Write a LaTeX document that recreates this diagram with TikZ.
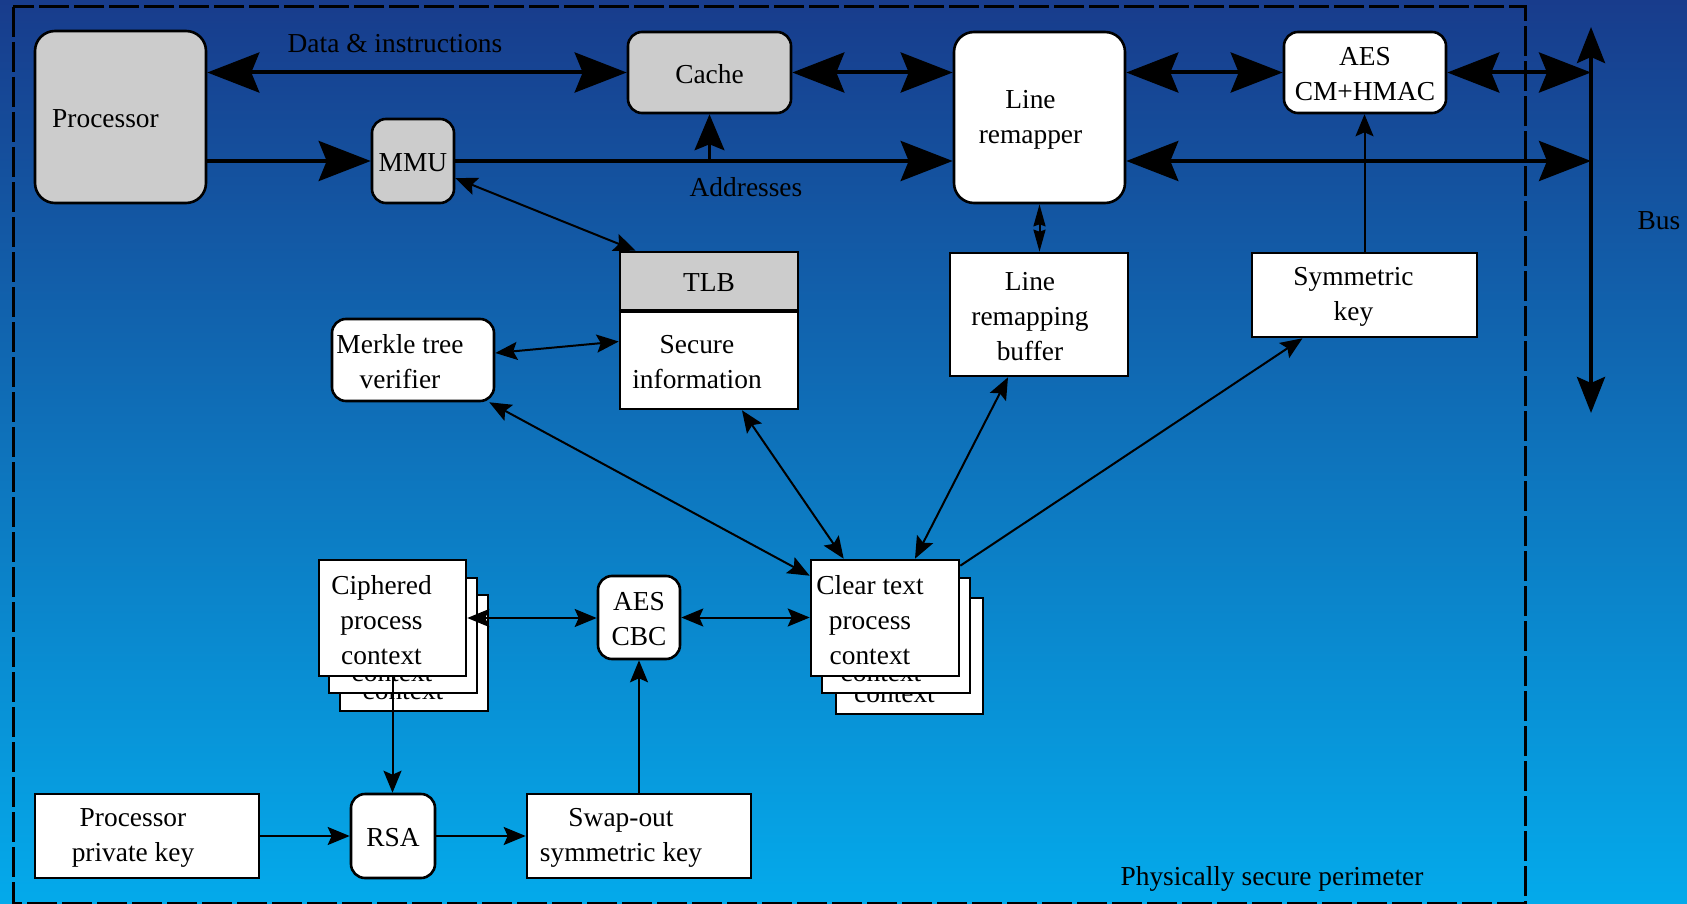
\documentclass[tikz,border=0pt]{standalone}
\usepackage{fontspec}
\setmainfont{Liberation Serif}
\usetikzlibrary{arrows.meta,fit,calc}

\definecolor{bgtop}{RGB}{24,60,140}
\definecolor{bgbot}{RGB}{4,170,235}
\definecolor{unitgray}{RGB}{204,204,204}

\tikzset{
  bigtip/.tip={Stealth[length=26pt,width=20pt,inset=4pt]},
  midtip/.tip={Stealth[length=18pt,width=15pt,inset=3pt]},
  bustip/.tip={Stealth[length=18pt,width=14pt,inset=3pt]},
  thintip/.tip={Stealth[length=11pt,width=9pt,inset=2pt]},
  smalltip/.tip={Stealth[length=11pt,width=6pt,inset=1pt]},
}

\begin{document}
\begin{tikzpicture}[x=0.5pt,y=-0.5pt,
  txt/.style={font=\fontsize{13.7}{17.5}\selectfont, align=center, inner sep=0pt},
  box/.style={draw=black, line width=1.3pt, fill=white, inner sep=0pt, txt},
  rbox/.style={box, rounded corners=7pt},
  grayfill/.style={fill=unitgray},
  every label/.style={txt, yshift=-1pt},
  thick bus/.style={line width=2pt},
  bigline/.style={line width=2pt},
  thinline/.style={line width=1pt},
  perim/.style={line width=1.5pt, dash pattern=on 15pt off 2.5pt},
]
% background
\shade[top color=bgtop, bottom color=bgbot] (0,0) rectangle (1687,904);
\useasboundingbox (0,0) rectangle (1687,904);

% physically secure perimeter
\draw[perim] (13,7) rectangle (1525,903);
\node[txt] (perimlabel) at (1272,879) {Physically secure perimeter};

% processor side units
\node[rbox, grayfill, rounded corners=10pt, fit={(35,31) (206,203)},
      label={[xshift=-7.5pt]center:Processor}] (proc) {};
\node[rbox, grayfill, fit={(372,119) (454,203)},
      label={center:MMU}] (mmu) {};
\node[rbox, grayfill, fit={(628,32) (791,113)},
      label={center:Cache}] (cache) {};
\node[rbox, rounded corners=10pt, fit={(954,32) (1125,203)},
      label={[xshift=-4.5pt]center:{Line\\remapper}}] (remap) {};
\node[rbox, fit={(1284,32) (1446,113)},
      label={center:{AES\\CM+HMAC}}] (aescm) {};

% bus
\coordinate (bustop) at (1591,27);
\coordinate (busbot) at (1591,413);
\draw[thick bus, bustip-bustip] (busbot) -- (bustop);
\node[txt] (buslabel) at (1659,221) {Bus};

% TLB and secure information
\node[box, grayfill, fit={(620,252) (798,310)},
      label={center:TLB}] (tlb) {};
\node[box, fit={(620,312) (798,409)},
      label={[xshift=-6pt]center:{Secure\\information}}] (sec) {};
\draw[line width=1.3pt] (tlb.south west) -- (tlb.south east);

\node[rbox, fit={(332,319) (494,401)},
      label={[xshift=-6.5pt]center:{Merkle tree\\verifier}}] (merkle) {};
\node[box, fit={(950,253) (1128,376)},
      label={[xshift=-4.5pt]center:{Line\\remapping\\buffer}}] (lrb) {};
\node[box, fit={(1252,253) (1477,337)},
      label={[xshift=-5.5pt]center:{Symmetric\\key}}] (symkey) {};

% process context stacks
\node[box, fit={(340,595) (488,711)}, label={[xshift=-5.5pt]center:{Ciphered\\process\\context}}] (ciph3) {};
\node[box, fit={(329,578) (477,693)}, label={[xshift=-5.5pt]center:{Ciphered\\process\\context}}] (ciph2) {};
\node[box, fit={(319,560) (466,676)}, label={[xshift=-5.5pt]center:{Ciphered\\process\\context}}] (ciph1) {};

\node[box, fit={(836,598) (983,714)}, label={[xshift=-7.5pt]center:{Clear text\\process\\context}}] (clear3) {};
\node[box, fit={(822,578) (970,693)}, label={[xshift=-7.5pt]center:{Clear text\\process\\context}}] (clear2) {};
\node[box, fit={(811,560) (959,676)}, label={[xshift=-7.5pt]center:{Clear text\\process\\context}}] (clear1) {};

\node[rbox, fit={(598,576) (680,659)},
      label={center:{AES\\CBC}}] (aescbc) {};

% key handling row
\node[box, fit={(35,794) (259,878)},
      label={[xshift=-7pt]center:{Processor\\private key}}] (ppk) {};
\node[rbox, fit={(351,794) (435,878)},
      label={center:RSA}] (rsa) {};
\node[box, fit={(527,794) (751,878)},
      label={[xshift=-9pt]center:{Swap-out\\symmetric key}}] (swap) {};

% data path
\draw[bigline, bigtip-bigtip] (proc.east |- cache.west) -- (cache.west);
\node[txt] (datalabel) at (395,44) {Data \& instructions};
\draw[bigline, bigtip-bigtip] (cache.east) -- (cache.east -| remap.west);
\draw[bigline, bigtip-bigtip] (remap.east |- aescm.west) -- (aescm.west);
\draw[bigline, bigtip-bigtip] (aescm.east) -- (aescm.east -| bustop);

% address path
\draw[bigline, -bigtip] (proc.east |- mmu.east) -- (mmu.west);
\draw[bigline, -bigtip] (mmu.east) -- (mmu.east -| remap.west);
\draw[line width=1.2pt, -midtip] (cache.south |- mmu.east) -- (cache.south);
\node[txt] (addrlabel) at (746,187) {Addresses};
\draw[bigline, bigtip-bigtip] (remap.east |- mmu.east) -- (mmu.east -| bustop);

% control connections
\draw[thinline, thintip-thintip] (mmu.-22) -- ([xshift=8.5pt]tlb.north west);
\draw[thinline, smalltip-smalltip] (remap.south) -- (remap.south |- lrb.north);
\draw[thinline, -thintip] (symkey.north) -- (symkey.north |- aescm.south);
\draw[thinline, thintip-thintip] ([yshift=3.5pt]merkle.east) -- ([yshift=9.5pt]sec.west);
\draw[thinline, thintip-thintip] ([xshift=-3pt]merkle.south east) -- ([yshift=-8.5pt]clear1.north west);
\draw[thinline, thintip-thintip] ([xshift=16.5pt]sec.south) -- ([xshift=17pt]clear1.north west);
\draw[thinline, thintip-thintip] ([xshift=-15.5pt]lrb.south) -- ([xshift=15pt]clear1.north);
\draw[thinline, -thintip] ([yshift=-3.5pt]clear1.north east) -- ([xshift=-31pt]symkey.south);

\draw[thinline, thintip-thintip] (ciph1.east) -- (ciph1.east -| aescbc.west);
\draw[thinline, thintip-thintip] (aescbc.east) -- (aescbc.east -| clear1.west);
\draw[thinline, -thintip] (ciph1.south) -- (ciph1.south |- rsa.north);
\draw[thinline, -thintip] (swap.north) -- (swap.north |- aescbc.south);
\draw[thinline, -thintip] (ppk.east) -- (rsa.west);
\draw[thinline, -thintip] (rsa.east) -- (swap.west);
\end{tikzpicture}
\end{document}
